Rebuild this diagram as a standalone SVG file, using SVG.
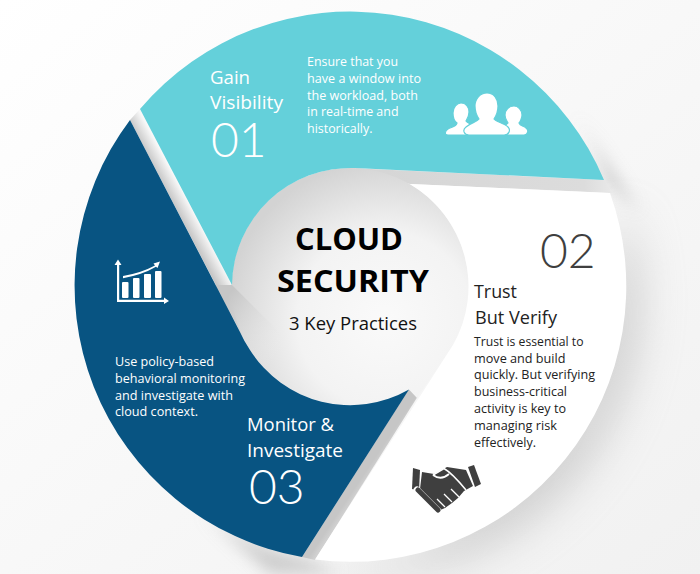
<svg xmlns="http://www.w3.org/2000/svg" width="700" height="574" viewBox="0 0 700 574">
<style>
.h{font-family:"Open Sans",sans-serif;font-size:18.400px;fill:#fff}
.b{font-family:"Open Sans",sans-serif;font-size:12.300px;fill:#fff}
.n{font-family:"Lato","Open Sans",sans-serif;font-weight:300;font-size:48px;fill:#fff}
.k{fill:#222}
.t{font-family:"Open Sans",sans-serif;font-weight:700;fill:#000}
</style>
<defs>
<linearGradient id="bg" x1="0" y1="0" x2="1" y2="1"><stop offset="0" stop-color="#ffffff"/><stop offset="1" stop-color="#f1f1f1"/></linearGradient>
<radialGradient id="core" gradientUnits="userSpaceOnUse" cx="385" cy="320" r="160"><stop offset="0" stop-color="#fafafa"/><stop offset="0.55" stop-color="#f3f3f3"/><stop offset="1" stop-color="#d3d3d3"/></radialGradient>
<linearGradient id="w1" gradientUnits="userSpaceOnUse" x1="192" y1="240" x2="205" y2="233"><stop offset="0" stop-color="#c4c4c4"/><stop offset="1" stop-color="#f8f8f8"/></linearGradient>
<linearGradient id="w2" gradientUnits="userSpaceOnUse" x1="225" y1="300" x2="285" y2="345"><stop offset="0" stop-color="#c6c6c6"/><stop offset="1" stop-color="#f0f0f0" stop-opacity="0"/></linearGradient>
<linearGradient id="w3" gradientUnits="userSpaceOnUse" x1="380" y1="0" x2="620" y2="0"><stop offset="0" stop-color="#d6d6d6"/><stop offset="0.85" stop-color="#dcdcdc"/><stop offset="1" stop-color="#ececec"/></linearGradient>
<linearGradient id="w4" gradientUnits="userSpaceOnUse" x1="360" y1="480" x2="372" y2="488"><stop offset="0" stop-color="#c6c6c6"/><stop offset="1" stop-color="#e2e2e2"/></linearGradient>
<filter id="s1" x="-30%" y="-30%" width="160%" height="160%"><feGaussianBlur stdDeviation="22"/></filter>
<filter id="s2" x="-30%" y="-30%" width="160%" height="160%"><feGaussianBlur stdDeviation="8"/></filter>
</defs>
<rect width="700" height="574" fill="url(#bg)"/>
<g id="shadows">
<path d="M610,193A275.500 275.500 0 0 1 315,559L400,540L560,400Z" fill="#a9a9a9" opacity="0.5" filter="url(#s1)" transform="translate(14,14)"/>
<path d="M574,112Q596,146 606,182L640,212L628,195Z" fill="#bdbdbd" opacity="0.8" filter="url(#s2)"/>
<path d="M200,510Q250,548 302,557L340,574L270,574Z" fill="#bbbbbb" opacity="0.7" filter="url(#s2)"/>
</g>
<g id="connectors">
<path d="M130,120L140,109L232,285L243,337Z" fill="url(#w1)"/>
<path d="M350,168L604,180L612,193L410,184Z" fill="url(#w3)"/>
<path d="M409,389L418,396L315,560L302,557Z" fill="url(#w4)"/>
</g>
<g id="center">
<path d="M350,168A118.500 118.500 0 0 1 453,345L417,398L409,389.500A118.500 118.500 0 0 1 350,405A118.500 118.500 0 0 1 350,168Z" fill="url(#core)"/>
<path d="M232,285L300,353L330,420L240,420L216,285Z" fill="url(#w2)"/>
<text class="t" x="295" y="250" font-size="31" textLength="108" lengthAdjust="spacingAndGlyphs">CLOUD</text>
<text class="t" x="277" y="292" font-size="31" textLength="152" lengthAdjust="spacingAndGlyphs">SECURITY</text>
<text x="289" y="330" font-family="'Open Sans',sans-serif" font-size="19" fill="#111" textLength="128" lengthAdjust="spacingAndGlyphs">3 Key Practices</text>
</g>
<g id="gain-visibility">
<path d="M140,109A275.500 275.500 0 0 1 604,180L355,168A118.500 118.500 0 0 0 232,285Z" fill="#64d0da"/>
<text class="h" x="210" y="83.500" textLength="40" lengthAdjust="spacingAndGlyphs">Gain</text>
<text class="h" x="210" y="108.700" textLength="73" lengthAdjust="spacingAndGlyphs">Visibility</text>
<text class="n" x="211" y="157">01</text>
<text class="b" x="307" y="66" textLength="91" lengthAdjust="spacingAndGlyphs">Ensure that you</text>
<text class="b" x="307" y="82.800" textLength="114" lengthAdjust="spacingAndGlyphs">have a window into</text>
<text class="b" x="307" y="99.600" textLength="111" lengthAdjust="spacingAndGlyphs">the workload, both</text>
<text class="b" x="307" y="116.400" textLength="91.500" lengthAdjust="spacingAndGlyphs">in real-time and</text>
<text class="b" x="307" y="133.200" textLength="65.500" lengthAdjust="spacingAndGlyphs">historically.</text>
<g id="people-icon" fill="#fff" stroke="#64d0da" stroke-width="1.200">
<path d="M461,103c5,0 8,4 8,9c0,4 -2,7 -3,9c1,2 5,3 8,5l4,6c2,2 -1,3 -4,3h-26c-4,0 -3,-4 0,-6c3,-2 8,-2 9,-6c-3,-2 -4,-6 -4,-10c0,-6 4,-10 8,-10z"/>
<path d="M514,106c4,0 8,4 8,9c0,3 -2,7 -3,8c1,3 5,3 7,5c3,2 2,7 -2,7h-20l-4,-6c2,-3 6,-3 8,-6c-1,-2 -3,-4 -3,-8c0,-5 4,-9 9,-9z"/>
<path d="M487,93c7,0 11,6 11,13c0,6 -2,10 -4,13c2,3 10,4 14,8c3,3 1,8 -4,8h-35c-5,0 -7,-5 -3,-8c4,-4 11,-5 13,-8c-2,-3 -4,-7 -4,-13c0,-7 5,-13 12,-13z"/>
</g>
</g>
<g id="trust-but-verify">
<path d="M410,184L610,193A275.500 275.500 0 0 1 315,559.500L453,345A118.500 118.500 0 0 0 410,184Z" fill="#fff"/>
<text class="n" x="540" y="268" style="fill:#3f3f3f">02</text>
<text class="h k" x="474" y="298" textLength="43" lengthAdjust="spacingAndGlyphs">Trust</text>
<text class="h k" x="475" y="323.500" textLength="82" lengthAdjust="spacingAndGlyphs">But Verify</text>
<text class="b k" x="474" y="345.700" textLength="109.500" lengthAdjust="spacingAndGlyphs">Trust is essential to</text>
<text class="b k" x="474" y="362.500" textLength="91.500" lengthAdjust="spacingAndGlyphs">move and build</text>
<text class="b k" x="474" y="379.300" textLength="121" lengthAdjust="spacingAndGlyphs">quickly. But verifying</text>
<text class="b k" x="474" y="396.100" textLength="93" lengthAdjust="spacingAndGlyphs">business-critical</text>
<text class="b k" x="474" y="412.900" textLength="92" lengthAdjust="spacingAndGlyphs">activity is key to</text>
<text class="b k" x="474" y="429.700" textLength="83" lengthAdjust="spacingAndGlyphs">managing risk</text>
<text class="b k" x="474" y="446.500" textLength="62" lengthAdjust="spacingAndGlyphs">effectively.</text>
<g id="handshake-icon">
<path d="M413,468L420,470L419,491L412,489Z" fill="#3f3f3f"/>
<path d="M468,467L474,465L481,484L475,487Z" fill="#3f3f3f"/>
<path d="M422,472L434,474L447,467L466,470L473,486L464,491L458,498L452,503L445,508L438,511L424,497L420,489Z" fill="#3f3f3f"/>
<path d="M433,475L444,468.500Q452,473 466,490" fill="none" stroke="#fff" stroke-width="1.500"/>
<path d="M433,475Q441,481 449,474" fill="none" stroke="#fff" stroke-width="1.800"/>
<path d="M437,499L445,507M444,494L452,502M451,489L459,497" stroke="#fff" stroke-width="1.300"/>
<g fill="none" stroke-linecap="round">
<path d="M417,490l5,5M423,496l5,5M428,501l5,5M433,506l5,5" stroke="#fff" stroke-width="7"/>
<path d="M418,490l5,5M424,496l5,5M429,501l5,5M434,506l4,4" stroke="#3f3f3f" stroke-width="5"/>
</g>
</g>
</g>
<g id="monitor-investigate">
<path d="M130,120L240,332Q244,341 250,350A118.500 118.500 0 0 0 409,389.500L302,557A275.500 275.500 0 0 1 130,120Z" fill="#085482"/>
<text class="b" x="115" y="366" textLength="99" lengthAdjust="spacingAndGlyphs">Use policy-based</text>
<text class="b" x="115" y="382.800" textLength="130" lengthAdjust="spacingAndGlyphs">behavioral monitoring</text>
<text class="b" x="115" y="399.600" textLength="118" lengthAdjust="spacingAndGlyphs">and investigate with</text>
<text class="b" x="115" y="416.400" textLength="83" lengthAdjust="spacingAndGlyphs">cloud context.</text>
<text class="h" x="247" y="431" textLength="87" lengthAdjust="spacingAndGlyphs">Monitor &amp;</text>
<text class="h" x="247" y="456.500" textLength="96" lengthAdjust="spacingAndGlyphs">Investigate</text>
<text class="n" x="249" y="504">03</text>
<g id="chart-icon" fill="#fff">
<path d="M117,265H114.500L118,259.500L121.500,265H119.200V299.800H164V297.500L169,301L164,304V302H117Z"/>
<rect x="122" y="282" width="6.500" height="16" rx="1"/>
<rect x="133" y="278" width="6.500" height="20" rx="1"/>
<rect x="144" y="274" width="7" height="24" rx="1"/>
<rect x="155" y="271" width="6.500" height="27" rx="1"/>
<path d="M123,276Q141,273 155,265.500L153.500,263.500L160,261.500L157.500,268L156,266.800Q142,275 123,278.200Z"/>
</g>
</g>
</svg>
